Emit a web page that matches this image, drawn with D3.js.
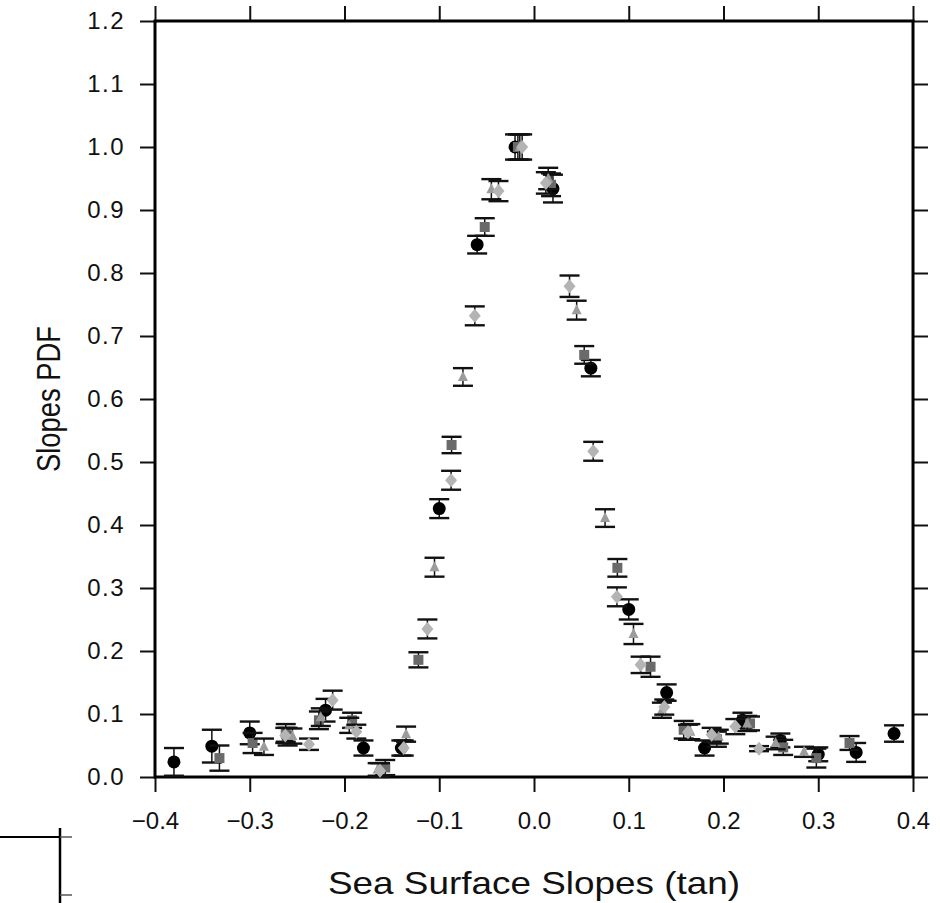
<!DOCTYPE html>
<html>
<head>
<meta charset="utf-8">
<script src="https://cdn.jsdelivr.net/npm/d3@7"></script>
<style>
  body { margin: 0; background: #fff; }
  svg { display: block; }
  text { font-family: "Liberation Sans", Arial, sans-serif; fill: #111; }
</style>
</head>
<body>
<div id="chart"></div>
<script>
// tick values
const xTicks = [-0.4, -0.3, -0.2, -0.1, 0.0, 0.1, 0.2, 0.3, 0.4];
const yTicks = [0.0, 0.1, 0.2, 0.3, 0.4, 0.5, 0.6, 0.7, 0.8, 0.9, 1.0, 1.1, 1.2];

// black circles
const circleX = [-0.38, -0.34, -0.30, -0.26, -0.22, -0.18, -0.14, -0.10, -0.06, -0.02, 0.02, 0.06, 0.10, 0.14, 0.18, 0.22, 0.26, 0.30, 0.34, 0.38];
const circleY = [0.024, 0.049, 0.070, 0.064, 0.106, 0.046, 0.046, 0.426, 0.845, 1.000, 0.934, 0.649, 0.266, 0.134, 0.046, 0.090, 0.058, 0.036, 0.039, 0.069];
const circleErr = [0.022, 0.026, 0.018, 0.014, 0.018, 0.012, 0.012, 0.015, 0.014, 0.020, 0.022, 0.013, 0.016, 0.013, 0.012, 0.012, 0.011, 0.011, 0.015, 0.013];

// dark gray squares
const squareX = [-0.332, -0.297, -0.262, -0.227, -0.192, -0.157, -0.122, -0.087, -0.052, -0.017, 0.018, 0.053, 0.088, 0.123, 0.158, 0.193, 0.228, 0.263, 0.298, 0.333];
const squareY = [0.030, 0.054, 0.070, 0.090, 0.090, 0.015, 0.186, 0.527, 0.873, 1.000, 0.940, 0.670, 0.332, 0.175, 0.075, 0.060, 0.085, 0.047, 0.030, 0.054];
const squareErr = [0.020, 0.016, 0.014, 0.014, 0.012, 0.012, 0.012, 0.013, 0.014, 0.020, 0.018, 0.014, 0.014, 0.016, 0.014, 0.012, 0.011, 0.012, 0.015, 0.011];

// light gray diamonds
const diamondX = [-0.2625, -0.2375, -0.2125, -0.1875, -0.1625, -0.1375, -0.1125, -0.0875, -0.0625, -0.0375, -0.0125, 0.0125, 0.0375, 0.0625, 0.0875, 0.1125, 0.1375, 0.1625, 0.1875, 0.2125, 0.2375];
const diamondY = [0.066, 0.052, 0.122, 0.072, 0.010, 0.046, 0.235, 0.471, 0.732, 0.930, 1.000, 0.943, 0.779, 0.517, 0.286, 0.178, 0.111, 0.071, 0.067, 0.080, 0.045];
const diamondErr = [0.012, 0.009, 0.015, 0.011, 0.012, 0.012, 0.015, 0.015, 0.015, 0.016, 0.020, 0.017, 0.017, 0.015, 0.015, 0.013, 0.012, 0.012, 0.011, 0.012, 0.004];

// gray triangles
const triX = [-0.285, -0.255, -0.225, -0.195, -0.165, -0.135, -0.105, -0.075, -0.045, -0.015, 0.015, 0.045, 0.075, 0.105, 0.135, 0.165, 0.195, 0.225, 0.255, 0.285];
const triY = [0.048, 0.065, 0.095, 0.082, 0.012, 0.068, 0.333, 0.635, 0.933, 1.000, 0.950, 0.741, 0.411, 0.227, 0.106, 0.072, 0.064, 0.085, 0.054, 0.040];
const triErr = [0.013, 0.012, 0.014, 0.012, 0.010, 0.012, 0.015, 0.014, 0.016, 0.020, 0.017, 0.015, 0.014, 0.016, 0.012, 0.012, 0.011, 0.012, 0.010, 0.008];

const width = 940, height = 903;
const margin = { top: 21, right: 27, bottom: 126, left: 155 };

const svg = d3.select("#chart").append("svg")
    .attr("width", width)
    .attr("height", height);

const x = d3.scaleLinear().domain([-0.4, 0.4]).range([margin.left, width - margin.right]);
const y = d3.scaleLinear().domain([0, 1.2]).range([height - margin.bottom, margin.top]);

const fmt = d3.format(".1f");

// axes, ticks pointing outward on all four sides
const gx = svg.append("g")
    .attr("transform", `translate(0,${y(0)})`)
    .call(d3.axisBottom(x).tickValues(xTicks).tickSize(15).tickPadding(20).tickFormat(fmt));
const gxTop = svg.append("g")
    .attr("transform", `translate(0,${y(1.2)})`)
    .call(d3.axisTop(x).tickValues(xTicks).tickSize(15).tickFormat(""));
const gy = svg.append("g")
    .attr("transform", `translate(${x(-0.4)},0)`)
    .call(d3.axisLeft(y).tickValues(yTicks).tickSize(15).tickPadding(15).tickFormat(fmt));
const gyRight = svg.append("g")
    .attr("transform", `translate(${x(0.4)},0)`)
    .call(d3.axisRight(y).tickValues(yTicks).tickSize(15).tickFormat(""));

[gx, gxTop, gy, gyRight].forEach(g => {
    g.select(".domain").remove();
    g.selectAll(".tick line").attr("stroke", "#111").attr("stroke-width", 2);
    g.selectAll("text").style("font-size", "24px").attr("fill", "#111");
});
gy.selectAll("text").style("letter-spacing", "1.5px");

// frame
svg.append("rect")
    .attr("x", x(-0.4))
    .attr("y", y(1.2))
    .attr("width", x(0.4) - x(-0.4))
    .attr("height", y(0) - y(1.2))
    .attr("fill", "none")
    .attr("stroke", "#000")
    .attr("stroke-width", 3);

// series
const series = [
    { xs: circleX, ys: circleY, es: circleErr, type: "circle", color: "#000" },
    { xs: squareX, ys: squareY, es: squareErr, type: "square", color: "#6a6a6a" },
    { xs: triX, ys: triY, es: triErr, type: "triangle", color: "#9c9c9c" },
    { xs: diamondX, ys: diamondY, es: diamondErr, type: "diamond", color: "#b4b4b4" }
];

const capW = 10;

series.forEach(s => {
    const pts = s.xs.map((v, i) => ({ x: v, y: s.ys[i], e: s.es[i] }));
    const g = svg.append("g");

    // error bars
    const eb = g.selectAll(".eb").data(pts).join("g");
    eb.append("line")
        .attr("x1", d => x(d.x)).attr("x2", d => x(d.x))
        .attr("y1", d => y(Math.max(0, d.y - d.e))).attr("y2", d => y(d.y + d.e))
        .attr("stroke", "#111").attr("stroke-width", 1.5);
    eb.append("line")
        .attr("x1", d => x(d.x) - capW).attr("x2", d => x(d.x) + capW)
        .attr("y1", d => y(d.y + d.e)).attr("y2", d => y(d.y + d.e))
        .attr("stroke", "#111").attr("stroke-width", 2.4);
    eb.append("line")
        .attr("x1", d => x(d.x) - capW).attr("x2", d => x(d.x) + capW)
        .attr("y1", d => y(Math.max(0, d.y - d.e))).attr("y2", d => y(Math.max(0, d.y - d.e)))
        .attr("stroke", "#111").attr("stroke-width", 2.4);

    // markers
    if (s.type === "circle") {
        g.selectAll(".m").data(pts).join("circle")
            .attr("cx", d => x(d.x)).attr("cy", d => y(d.y))
            .attr("r", 6.5).attr("fill", s.color);
    } else if (s.type === "square") {
        g.selectAll(".m").data(pts).join("rect")
            .attr("x", d => x(d.x) - 5).attr("y", d => y(d.y) - 5)
            .attr("width", 10).attr("height", 10).attr("fill", s.color);
    } else if (s.type === "diamond") {
        g.selectAll(".m").data(pts).join("path")
            .attr("transform", d => `translate(${x(d.x)},${y(d.y)})`)
            .attr("d", "M0,-7L6,0L0,7L-6,0Z").attr("fill", s.color);
    } else {
        g.selectAll(".m").data(pts).join("path")
            .attr("transform", d => `translate(${x(d.x)},${y(d.y)})`)
            .attr("d", "M0,-6L5,4L-5,4Z").attr("fill", s.color);
    }
});

// axis titles
svg.append("text")
    .attr("x", (x(-0.4) + x(0.4)) / 2)
    .attr("y", 894)
    .attr("text-anchor", "middle")
    .attr("textLength", 412)
    .attr("lengthAdjust", "spacingAndGlyphs")
    .style("font-size", "32px")
    .text("Sea Surface Slopes (tan)");

svg.append("text")
    .attr("transform", `translate(60,${(y(0) + y(1.2)) / 2}) rotate(-90)`)
    .attr("text-anchor", "middle")
    .attr("textLength", 146)
    .attr("lengthAdjust", "spacingAndGlyphs")
    .style("font-size", "33px")
    .text("Slopes PDF");

// leftover corner of a neighbouring frame, bottom left
const corner = svg.append("g");
corner.append("line").attr("x1", 0).attr("x2", 60).attr("y1", 837).attr("y2", 837)
    .attr("stroke", "#000").attr("stroke-width", 2);
corner.append("line").attr("x1", 60).attr("x2", 60).attr("y1", 828).attr("y2", 903)
    .attr("stroke", "#000").attr("stroke-width", 2.5);
[837, 895].forEach(v => {
    corner.append("line").attr("x1", 60).attr("x2", 72).attr("y1", v).attr("y2", v)
        .attr("stroke", "#555").attr("stroke-width", 1.5);
});
</script>
</body>
</html>
